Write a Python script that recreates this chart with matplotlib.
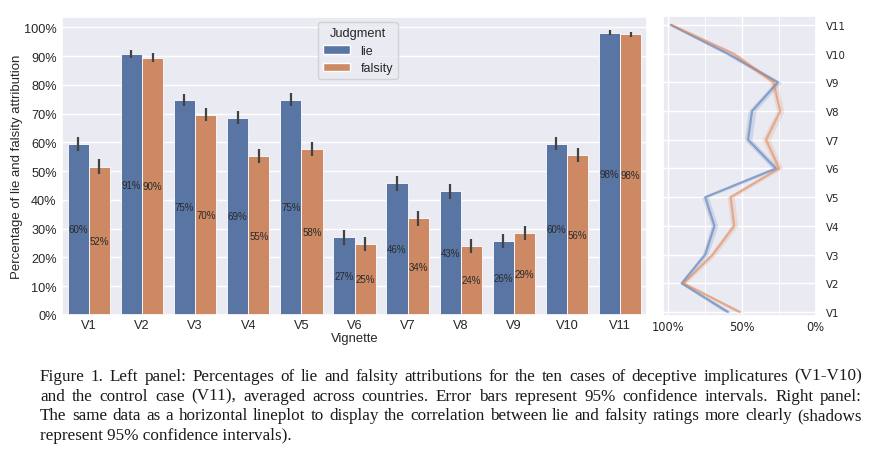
import numpy as np
import matplotlib
matplotlib.use("Agg")
import matplotlib.pyplot as plt
import seaborn as sns
from matplotlib.patches import Patch

categories = ["V1", "V2", "V3", "V4", "V5", "V6", "V7", "V8", "V9", "V10", "V11"]
lie = [59.5, 90.7, 74.8, 68.6, 74.8, 27.0, 45.8, 43.1, 25.6, 59.6, 98.2]
falsity = [51.5, 89.5, 69.7, 55.2, 57.6, 24.8, 33.6, 24.0, 28.6, 55.7, 97.6]
lie_ci = [2.5, 1.5, 2.0, 2.3, 2.3, 2.5, 2.6, 2.6, 2.4, 2.4, 0.8]
falsity_ci = [2.6, 1.7, 2.2, 2.4, 2.4, 2.4, 2.7, 2.5, 2.5, 2.5, 0.8]
series_names = ["lie", "falsity"]
left_yticks = list(range(0, 101, 10))
right_xticks = [100, 50, 0]

caption_lines = [
    "Figure 1. Left panel: Percentages of lie and falsity attributions for the ten cases of deceptive implicatures (V1-V10)",
    "and the control case (V11), averaged across countries. Error bars represent 95% confidence intervals. Right panel:",
    "The same data as a horizontal lineplot to display the correlation between lie and falsity ratings more clearly (shadows",
    "represent 95% confidence intervals).",
]

sns.set_theme(style="darkgrid")
plt.rcParams["font.family"] = ["Liberation Sans", "DejaVu Sans"]

W, H = 885, 460
fig = plt.figure(figsize=(W / 100, H / 100), dpi=100)

deep_blue = "#4C72B0"
deep_orange = "#DD8452"
bar_colors = [sns.desaturate(deep_blue, 0.75), sns.desaturate(deep_orange, 0.75)]

# ---------- left panel ----------
ax = fig.add_axes([62.3 / W, 1 - 316 / H, (646.7 - 62.3) / W, (316 - 18) / H])
x = np.arange(len(categories))
bw = 0.4
for k, (vals, cis) in enumerate([(lie, lie_ci), (falsity, falsity_ci)]):
    pos = x - bw / 2 + k * bw
    bars = ax.bar(pos, vals, width=bw, color=bar_colors[k], edgecolor="white",
                  linewidth=0.6, zorder=2)
    ax.errorbar(pos, vals, yerr=cis, fmt="none", ecolor="#424242",
                elinewidth=1.6, capsize=0, zorder=3)
    ax.bar_label(bars, labels=[f"{v:.0f}%" for v in vals], label_type="center",
                 fontsize=7, color="#2a2a2a")
ax.set_xlim(-0.5, len(categories) - 0.5)
ax.set_ylim(0, 103.6)
ax.set_xticks(x)
ax.set_xticklabels(categories, fontsize=9.2)
ax.set_yticks(left_yticks)
ax.set_yticklabels([f"{t}%" for t in left_yticks], fontsize=9.2)
ax.tick_params(axis="both", length=0)
ax.tick_params(axis="x", pad=3)
ax.tick_params(axis="y", pad=4)
ax.set_xlabel("Vignette", fontsize=9.4)
ax.set_ylabel("Percentage of lie and falsity attribution", fontsize=9.5)
ax.xaxis.set_label_coords(0.5, -(333 - 316) / 298)
ax.yaxis.set_label_coords(-(62.3 - 23) / 584.4, 0.5)
ax.grid(axis="x", visible=False)
handles = [Patch(facecolor=bar_colors[i], label=series_names[i]) for i in range(2)]
leg = ax.legend(handles=handles, title="Judgment", loc="upper left",
                bbox_to_anchor=(0.4375, 0.983), borderaxespad=0,
                fontsize=9, title_fontsize=9.2, handlelength=2.2,
                labelspacing=0.45, borderpad=0.4, handletextpad=0.8)

# ---------- right panel ----------
ax2 = fig.add_axes([662.7 / W, 1 - 317 / H, (815.7 - 662.7) / W, (317 - 17.3) / H])
yy = np.arange(len(categories))
for vals, cis, c in [(lie, lie_ci, deep_blue), (falsity, falsity_ci, deep_orange)]:
    v = np.array(vals)
    e = np.array(cis)
    ax2.fill_betweenx(yy, v - e, v + e, color=c, alpha=0.18, linewidth=0)
    ax2.plot(v, yy, color=c, alpha=0.55, lw=1.6)
ax2.set_xlim(103.6, 0)
ax2.set_ylim(-0.14, 10.3)
ax2.set_xticks(right_xticks)
ax2.set_xticklabels([f"{t}%" for t in right_xticks], fontsize=8.3, family="DejaVu Sans")
ax2.set_xticks([75, 25], minor=True)
ax2.grid(which="minor", axis="x", color="white", lw=0.6)
ax2.set_yticks(yy)
ax2.set_yticklabels(categories, fontsize=7.4, family="DejaVu Sans")
ax2.yaxis.tick_right()
ax2.tick_params(axis="both", which="both", length=0)
ax2.tick_params(axis="y", pad=7.5)
ax2.tick_params(axis="x", pad=3)

# ---------- caption (justified) ----------
renderer = fig.canvas.get_renderer()
cap_kw = dict(fontsize=12.3, family="Liberation Serif", color="#1a1a1a", va="baseline")
x0, x1 = 40, 862
baselines = [380.7, 400.7, 420.5, 440]


def place_line(text, ybase, justify):
    if not justify:
        fig.text(x0 / W, 1 - ybase / H, text, **cap_kw)
        return
    words = text.split(" ")
    arts = [fig.text(0, 1 - ybase / H, w, **cap_kw) for w in words]
    widths = [a.get_window_extent(renderer).width for a in arts]
    gap = max((x1 - x0 - sum(widths)) / (len(words) - 1), 2.0)
    xp = x0
    for a, w in zip(arts, widths):
        a.set_x(xp / W)
        xp += w + gap


for i, line in enumerate(caption_lines):
    place_line(line, baselines[i], justify=(i < len(caption_lines) - 1))

fig.savefig("out.png", dpi=100)
